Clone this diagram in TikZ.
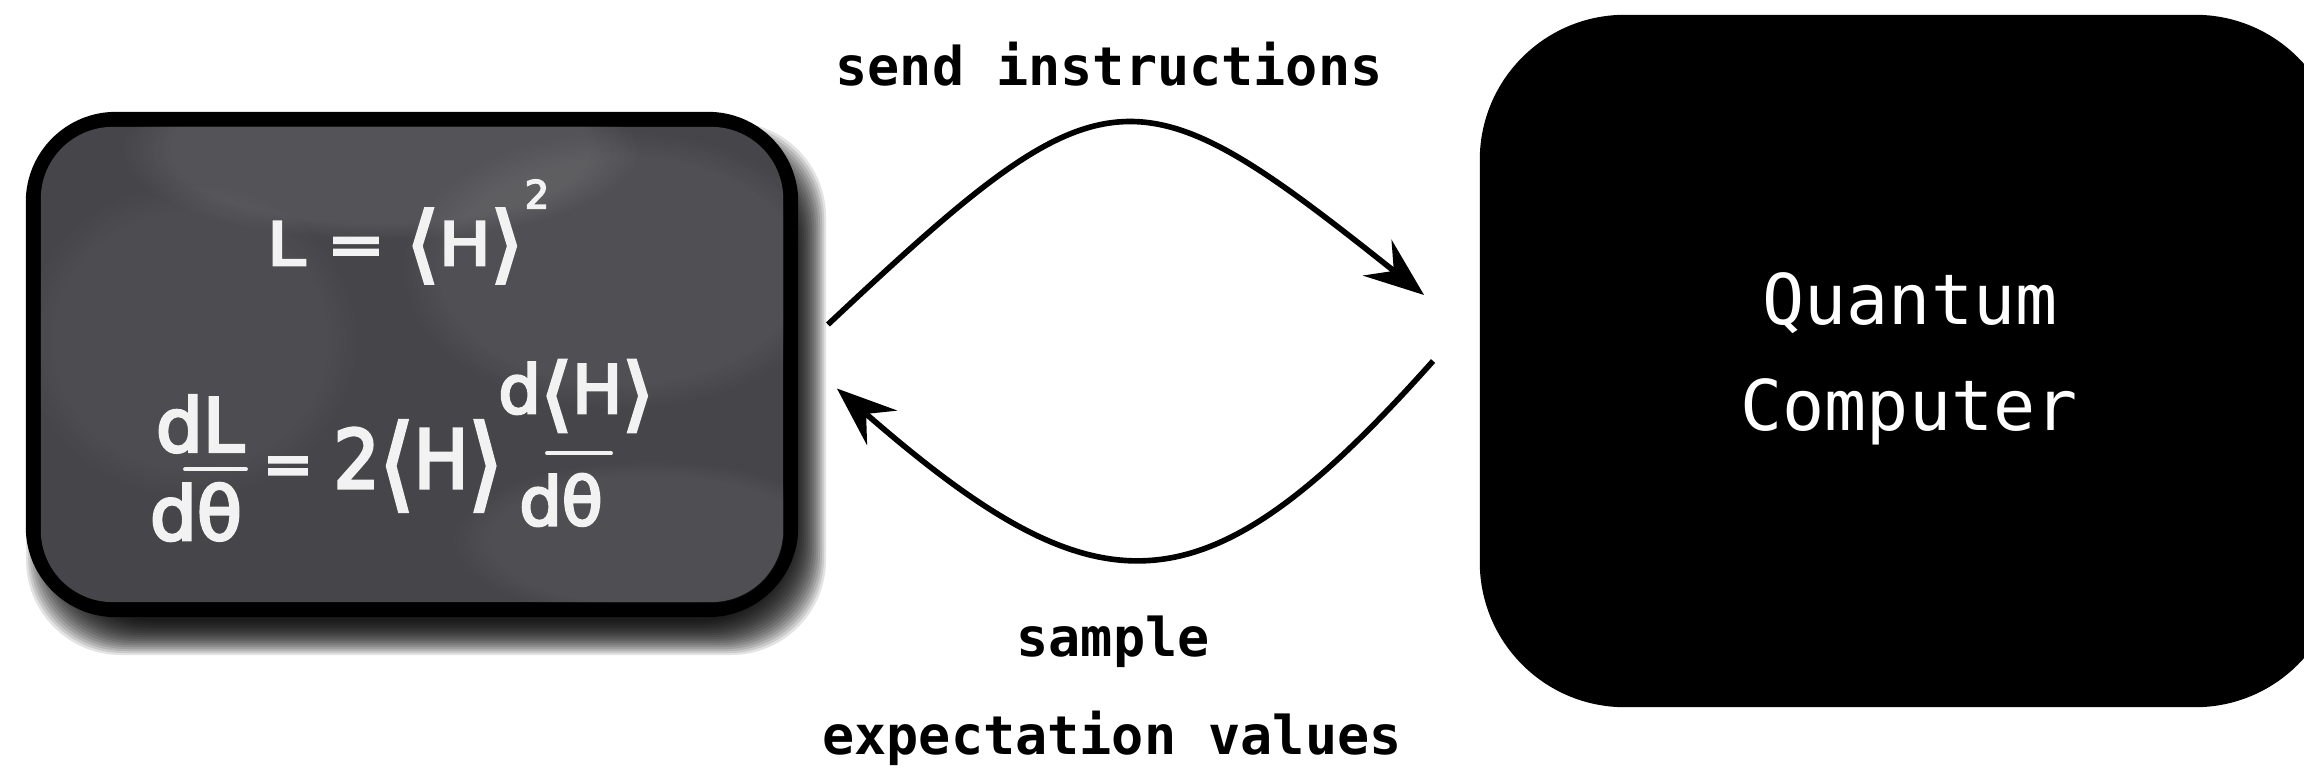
\documentclass[tikz,border=0pt]{standalone}
\usepackage{fontspec}
\usetikzlibrary{arrows.meta,calc,fadings}
\newfontfamily\monofont{DejaVu Sans Mono}
\newfontfamily\chalkfont[FakeBold=4]{DejaVu Sans}
\definecolor{slate}{HTML}{46464A}
\definecolor{chalk}{HTML}{F2F2F2}
% tall chalk angle brackets: #1 horizontal, #2 vertical stretch
\newcommand{\lang}[2]{\raisebox{-0.12em}{\scalebox{#1}[#2]{⟨}}}
\newcommand{\rang}[2]{\raisebox{-0.12em}{\scalebox{#1}[#2]{⟩}}}

\begin{document}
\begin{tikzpicture}[x=0.01cm,y=-0.01cm,
  flow/.style={line width=1.6pt, -{Stealth[length=17pt,width=13pt,inset=6pt]}},
  caption/.style={font=\monofont\bfseries\fontsize{15.2}{18}\selectfont, inner sep=0pt, anchor=base},
  qctext/.style={font=\monofont\fontsize{19.9}{24}\selectfont, text=white, inner sep=0pt, anchor=base},
  chalkA/.style={font=\chalkfont\fontsize{17}{20}\selectfont, text=chalk, inner sep=0pt},
  chalkB/.style={font=\chalkfont\fontsize{21}{24}\selectfont, text=chalk, inner sep=0pt},
  chalkC/.style={font=\chalkfont\fontsize{19}{22}\selectfont, text=chalk, inner sep=0pt},
  chalkbar/.style={chalk, line width=1.1pt, line cap=round},
  smudge/.style={fill=white, path fading=circle with fuzzy edge 20 percent},
]
\useasboundingbox (0,0) rectangle (2304,770);
\fill[white] (0,0) rectangle (2304,770);
\clip (0,0) rectangle (2304,770);

% soft drop shadow of the chalkboard, cast to the lower right
\foreach \k in {-20,-18,...,14} {
  \fill[black, opacity=0.11, rounded corners=0.95cm]
    ({40-(\k)},{136-(\k)}) rectangle ({812+(\k)},{641+(\k)});
}

% chalkboard: black frame and slate panel
\node[fill=black, rounded corners=0.9cm, minimum width=7.72cm, minimum height=5.05cm, inner sep=0pt] (board) at (412,364.5) {};
\node[fill=slate, rounded corners=0.72cm, minimum width=7.42cm, minimum height=4.75cm, inner sep=0pt] (panel) at (board.center) {};

% faint chalk smudges on the slate
\begin{scope}
  \clip[rounded corners=0.72cm] (panel.north west) rectangle (panel.south east);
  \fill[smudge, fill opacity=0.08] (380,150) ellipse [x radius=260, y radius=90];
  \fill[smudge, fill opacity=0.06] (620,270) ellipse [x radius=220, y radius=140];
  \fill[smudge, fill opacity=0.04] (190,340) ellipse [x radius=170, y radius=160];
  \fill[smudge, fill opacity=0.05] (650,540) ellipse [x radius=200, y radius=80];
\end{scope}

% equations written in chalk
\node[chalkA] (eqone) at (395,246) {\scalebox{1.15}[1]{L = \lang{1.2}{1.4}H\rang{1.2}{1.4}}};
\node[chalkA, font=\chalkfont\fontsize{11}{12}\selectfont] (sq) at (537,194) {2};

\node[chalkB] (dL) at (200,424) {dL};
\draw[chalkbar] ($(dL.south)+(-15,16)$) -- ($(dL.south)+(46,16)$);
\node[chalkB] (dth) at (196,512) {dθ};
\node[chalkA] (eqtwo) at (288,471) {=};
\node[chalkB, font=\chalkfont\fontsize{23}{26}\selectfont] (twoH) at (418,466) {\scalebox{0.9}[1]{2\lang{1.2}{1.25}H\rang{1.2}{1.25}}};
\node[chalkC] (dH) at (576,396) {d\lang{1.2}{1.2}H\rang{1.2}{1.2}};
\node[chalkC] (dth2) at (561,500) {dθ};
\draw[chalkbar] ($(dth2.north)+(-14,-20)$) -- ($(dth2.north)+(50,-20)$);

% quantum computer
\node[fill=black, rounded corners=1.45cm, minimum width=8.6cm, minimum height=6.92cm, inner sep=0pt] (qc) at (1910,361) {};
\node[qctext] (qcone) at (1910,324) {Quantum};
\node[qctext] (qctwo) at (1909,430) {Computer};

% connectors
\coordinate (sendA) at ($(board.east)+(29,-40)$);
\coordinate (sendB) at ($(qc.west)+(-55,-66)$);
\coordinate (retA) at ($(qc.west)+(-46,0)$);
\coordinate (retB) at ($(board.east)+(38,24)$);
\draw[flow] (sendA) .. controls +(278,-261) and +(-291,-232) .. (sendB);
\draw[flow] (retA) .. controls +(-229,257) and +(264,230) .. (retB);

% labels
\node[caption] (lsend) at (1109,86) {send instructions};
\node[caption] (lsample) at (1113,656) {sample};
\node[caption] (lexp) at (1112,754) {expectation values};
\end{tikzpicture}
\end{document}
